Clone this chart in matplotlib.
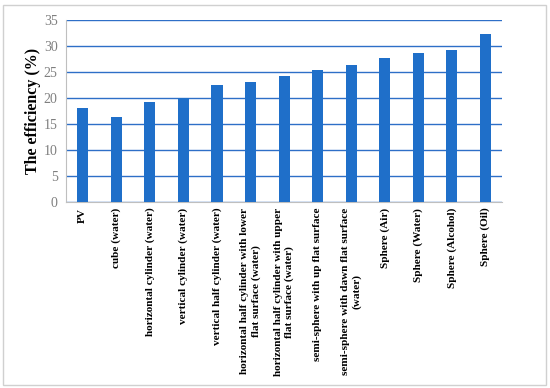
import numpy as np
import matplotlib.pyplot as plt
from matplotlib.patches import Rectangle

labels = ['PV', 'cube (water)', 'horizontal cylinder (water)', 'vertical cylinder (water)',
          'vertical half cylinder (water)', 'horizontal half cylinder with lower\nflat surface (water)',
          'horizontal half cylinder with upper\nflat surface (water)', 'semi-sphere with up flat surface',
          'semi-sphere with dawn flat surface\n(water)', 'Sphere (Air)', 'Sphere (Water)',
          'Sphere (Alcohol)', 'Sphere (Oil)']
efficiency = [18.2, 16.3, 19.2, 20.0, 22.6, 23.2, 24.3, 25.4, 26.4, 27.7, 28.7, 29.3, 32.3]

bar_col = '#1F6FC9'
plt.rcParams['font.family'] = 'Liberation Serif'

fig = plt.figure(figsize=(5.5, 3.88), dpi=100)
ax = fig.add_axes([0.12, 0.479, 0.793, 0.469])
x = np.arange(len(labels))
ax.bar(x, efficiency, width=0.33, color=bar_col, zorder=3)
ax.set_ylim(0, 35)
ax.set_xlim(-0.5, len(labels) - 0.5)
ax.set_yticks(range(0, 36, 5))
ax.tick_params(axis='y', length=0, labelsize=10, labelcolor='#7f7f7f', pad=6)
ax.set_xticks(x)
ax.set_xticklabels(labels, rotation=90, fontsize=8.1, fontweight='bold',
                   multialignment='center', linespacing=1.25)
ax.tick_params(axis='x', length=0, pad=4)
ax.grid(axis='y', color='#2E6FC7', linewidth=1.0, zorder=0)
for s in ['top', 'right']:
    ax.spines[s].set_visible(False)
ax.spines['left'].set_color('#bfbfbf')
ax.spines['bottom'].set_color('#bfbfbf')
ax.set_ylabel('The efficiency (%)', fontsize=11.5, fontweight='bold', labelpad=2)

fig.patches.append(Rectangle((0.006, 0.008), 0.986, 0.98, transform=fig.transFigure,
                             fill=False, edgecolor='#d0d0d0', linewidth=1))
fig.savefig('out.png', dpi=100)
